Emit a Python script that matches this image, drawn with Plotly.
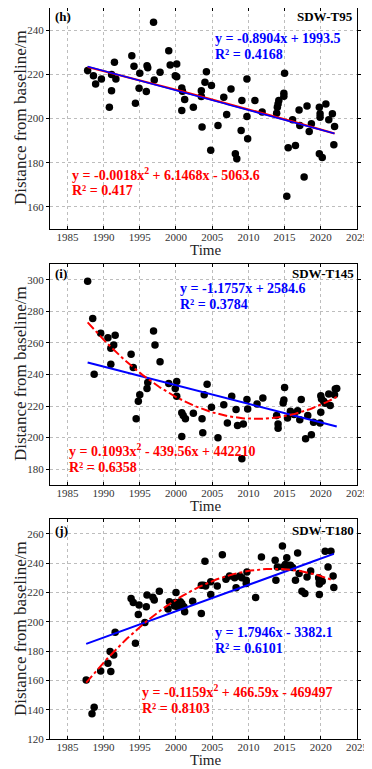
import numpy as np
import plotly.graph_objects as go

# ---------------- data ----------------
t95_year = [1987.8, 1988.6, 1988.9, 1989.7, 1990.8, 1991.1, 1991.1, 1991.5, 1991.7, 1993.9,
            1994.2, 1994.4, 1994.9, 1995.0, 1995.9, 1996.0, 1996.1, 1997.0, 1996.9, 1997.8,
            1999.0, 1999.2, 1999.9, 2000.1, 2000.1, 2000.8, 2000.8, 2000.9, 2001.2, 2002.4,
            2003.5, 2003.6, 2003.5, 2004.0, 2004.2, 2004.9, 2004.8, 2005.8, 2006.6, 2007.0,
            2007.6, 2008.2, 2008.4, 2009.0, 2009.1, 2009.8, 2009.8, 2009.9, 2010.9, 2011.9,
            2013.9, 2014.0, 2014.1, 2014.2, 2014.9, 2014.9, 2015.0, 2015.5, 2015.3, 2016.1,
            2016.5, 2017.0, 2017.1, 2017.7, 2018.1, 2018.4, 2018.7, 2019.8, 2019.9, 2019.9,
            2019.8, 2020.2, 2020.7, 2021.1, 2021.6, 2021.8, 2021.9]
t95_dist = [221.7, 219.4, 215.6, 217.9, 205.1, 212.6, 219.9, 225.4, 217.9, 228.4,
            223.6, 206.9, 213.7, 220.5, 212.2, 223.9, 223.0, 217.4, 243.5, 220.9,
            230.7, 224.2, 219.4, 224.7, 218.9, 213.8, 203.6, 212.3, 208.6, 205.1,
            212.6, 196.1, 209.9, 216.4, 221.2, 214.9, 185.6, 196.8, 209.6, 201.8,
            213.4, 184.1, 181.8, 194.6, 208.1, 200.9, 217.9, 190.8, 208.1, 202.9,
            202.4, 205.1, 206.6, 208.1, 211.4, 210.1, 220.5, 186.8, 164.8, 199.4,
            187.8, 203.9, 196.8, 173.5, 205.7, 194.1, 197.6, 205.1, 202.1, 200.6,
            184.1, 182.3, 206.6, 199.4, 202.1, 188.1, 196.4]

t145_year = [1987.8, 1988.5, 1988.7, 1989.6, 1990.6, 1991.0, 1991.0, 1991.4, 1991.6, 1993.8,
             1994.1, 1994.5, 1994.8, 1995.0, 1996.0, 1996.1, 1996.9, 1997.1, 1997.8, 1999.0,
             1999.9, 2000.1, 2000.1, 2000.8, 2001.0, 2001.3, 2000.8, 2002.4, 2003.6, 2003.7,
             2003.9, 2004.3, 2004.9, 2005.8, 2006.6, 2007.1, 2007.7, 2008.3, 2008.5, 2009.3,
             2009.1, 2009.8, 2009.9, 2011.2, 2012.0, 2013.9, 2014.1, 2014.1, 2014.8, 2014.9,
             2015.0, 2015.4, 2015.8, 2016.3, 2016.8, 2017.1, 2017.3, 2017.9, 2018.2, 2018.7,
             2019.0, 2019.9, 2020.0, 2020.0, 2020.1, 2020.4, 2020.6, 2021.1, 2021.3, 2021.9,
             2022.0, 2022.2]
t145_dist = [299.0, 275.5, 240.2, 266.2, 263.3, 256.6, 246.5, 258.7, 264.8, 252.8,
             244.4, 211.9, 223.0, 227.2, 231.2, 235.0, 267.5, 258.7, 248.0, 234.3,
             231.2, 235.6, 226.2, 215.7, 214.0, 211.9, 200.8, 215.5, 211.9, 203.1,
             227.2, 233.9, 219.2, 199.9, 220.9, 209.2, 226.2, 217.8, 207.7, 208.7,
             186.7, 224.1, 218.2, 221.3, 225.1, 214.0, 208.7, 206.0, 222.0, 223.9,
             231.8, 212.5, 216.7, 214.6, 217.1, 211.3, 224.1, 199.3, 214.0, 201.8,
             209.8, 209.2, 216.1, 226.6, 224.5, 223.0, 221.8, 227.6, 220.3, 227.2,
             230.8, 231.2]

t180_year = [1987.6, 1988.4, 1988.7, 1989.6, 1990.6, 1990.9, 1991.0, 1991.4, 1991.6, 1993.8,
             1994.1, 1994.4, 1994.8, 1994.9, 1995.7, 1995.9, 1996.0, 1996.8, 1997.0, 1997.7,
             1998.9, 1999.1, 1999.8, 1999.9, 2000.0, 2000.2, 2000.6, 2000.8, 2000.8, 2001.1,
             2001.2, 2002.3, 2003.5, 2003.5, 2003.8, 2004.0, 2004.1, 2004.8, 2004.8, 2005.7,
             2006.4, 2006.9, 2007.4, 2008.1, 2008.3, 2008.8, 2009.1, 2009.7, 2009.7, 2009.8,
             2011.0, 2011.8, 2013.7, 2013.8, 2014.0, 2014.7, 2014.8, 2015.1, 2015.3, 2015.4,
             2015.8, 2016.1, 2016.5, 2016.8, 2017.0, 2017.4, 2017.8, 2018.1, 2018.6, 2019.7,
             2019.8, 2019.8, 2019.8, 2020.2, 2020.6, 2021.0, 2021.4, 2021.7, 2021.8]
t180_dist = [160.3, 137.2, 141.7, 166.4, 171.6, 179.6, 166.0, 177.3, 192.7, 215.8,
             213.1, 185.2, 204.9, 211.3, 199.5, 210.2, 218.1, 216.7, 214.7, 220.8,
             208.6, 213.6, 210.6, 213.1, 219.9, 210.2, 213.6, 212.4, 211.3, 210.2,
             206.8, 214.0, 224.9, 205.6, 224.9, 241.2, 224.4, 218.5, 227.2, 224.4,
             245.7, 229.0, 231.2, 229.9, 223.1, 231.2, 229.9, 228.3, 226.0, 233.9,
             216.5, 244.1, 241.9, 228.3, 237.3, 251.6, 237.3, 238.9, 243.5, 238.5,
             238.5, 236.9, 228.3, 246.9, 232.8, 220.8, 219.2, 230.5, 234.6, 229.9,
             227.1, 225.6, 218.5, 227.6, 248.0, 237.3, 248.0, 231.2, 223.3]

# linear fit coefficients printed on the chart (slope, intercept)
lin_coef = [(-0.8904, 1993.5), (-1.1757, 2584.6), (1.7946, -3382.1)]

panel_tags = ["(h)", "(i)", "(j)"]
panel_names = ["SDW-T95", "SDW-T145", "SDW-T180"]
lin_eq = ["y = -0.8904x + 1993.5", "y = -1.1757x + 2584.6", "y = 1.7946x - 3382.1"]
lin_r2 = ["R² = 0.4168", "R² = 0.3784", "R² = 0.6101"]
quad_eq = ["y = -0.0018x<sup>2</sup> + 6.1468x - 5063.6",
           "y = 0.1093x<sup>2</sup> - 439.56x + 442210",
           "y = -0.1159x<sup>2</sup> + 466.59x - 469497"]
quad_r2 = ["R² = 0.417", "R² = 0.6358", "R² = 0.8103"]
x_title = "Time"
y_title = "Distance from baseline/m"

x_ticks = [1985, 1990, 1995, 2000, 2005, 2010, 2015, 2020, 2025]
y_ticks = [[160, 180, 200, 220, 240],
           [180, 200, 220, 240, 260, 280, 300],
           [120, 140, 160, 180, 200, 220, 240, 260]]
y_ranges = [[150, 250], [170, 310], [120, 270]]

years = [t95_year, t145_year, t180_year]
dists = [t95_dist, t145_dist, t180_dist]

# ---------------- layout geometry ----------------
# the page body adds an 8px offset, so the figure is drawn 8px smaller and
# every reference pixel position is shifted by OFF.
OFF = 8
W, H = 372 - OFF, 769 - OFF
BOX_L, BOX_R = 50, 357          # reference pixels
ML, MR, MT, MB = BOX_L - OFF, W - (BOX_R - OFF), 0, H - (739 - OFF)
PW, PH = W - ML - MR, H - MT - MB


def px2paper(px, py):
    return (px - OFF - ML) / PW, (H - MB - (py - OFF)) / PH


# reference pixel tops/bottoms of the three boxes
boxes = [(8, 229), (264, 485), (519, 739)]
domains = [[(H - MB - (b - OFF)) / PH, min(1.0, (H - MB - (t - OFF)) / PH)] for t, b in boxes]

FONT = "Liberation Serif, Times New Roman, serif"

fig = go.Figure()

quad_dash = ["solid", "dashdot", "dashdot"]

for i in range(3):
    xs = np.array(years[i])
    ys = np.array(dists[i])
    xa = "x" if i == 0 else f"x{i+1}"
    ya = "y" if i == 0 else f"y{i+1}"
    xl = np.linspace(xs.min(), xs.max(), 200)
    poly = np.polynomial.Polynomial.fit(xs, ys, 2)   # quadratic fit from the data
    m, c = lin_coef[i]
    fig.add_trace(go.Scatter(x=xs, y=ys, mode="markers", xaxis=xa, yaxis=ya,
                             marker=dict(color="black", size=7.5), showlegend=False))
    if i == 0:
        fig.add_trace(go.Scatter(x=xl, y=poly(xl), mode="lines", xaxis=xa, yaxis=ya,
                                 line=dict(color="#ff0000", width=2.2, dash=quad_dash[i]),
                                 showlegend=False))
        fig.add_trace(go.Scatter(x=xl, y=m * xl + c, mode="lines", xaxis=xa, yaxis=ya,
                                 line=dict(color="#0000ff", width=1.6), showlegend=False))
    else:
        fig.add_trace(go.Scatter(x=xl, y=m * xl + c, mode="lines", xaxis=xa, yaxis=ya,
                                 line=dict(color="#0000ff", width=2), showlegend=False))
        fig.add_trace(go.Scatter(x=xl, y=poly(xl), mode="lines", xaxis=xa, yaxis=ya,
                                 line=dict(color="#ff0000", width=2, dash=quad_dash[i]),
                                 showlegend=False))

axis_common = dict(showline=True, linecolor="black", linewidth=1, mirror="ticks",
                   ticklen=3, tickcolor="black",
                   showgrid=True, gridcolor="#bdbdbd", griddash="dot", gridwidth=1,
                   zeroline=False, tickfont=dict(family=FONT, size=11, color="#333"))

layout = dict(width=W, height=H, margin=dict(l=ML, r=MR, t=MT, b=MB, autoexpand=False),
              paper_bgcolor="white", plot_bgcolor="white", font=dict(family=FONT))
for i in range(3):
    sx = "" if i == 0 else str(i + 1)
    layout["xaxis" + sx] = dict(axis_common, domain=[0, 1], anchor="y" + sx, ticks="inside",
                                ticklabelstandoff=-2,
                                range=[1982.6, 2025.0], tickvals=x_ticks)
    layout["yaxis" + sx] = dict(axis_common, domain=domains[i], anchor="x" + sx, ticks="outside",
                                range=y_ranges[i], tickvals=y_ticks[i])
fig.update_layout(**layout)

# annotation pixel anchors (reference pixels)
ann_pos = [
    dict(tag=(53, 16), name=(355, 16), le=(213, 39), lr=(213, 55), qe=(70, 174), qr=(70, 191),
         xt=(205, 250), yt=(20, 118)),
    dict(tag=(53, 273), name=(356, 273), le=(178, 288), lr=(178, 304), qe=(67, 450), qr=(67, 467),
         xt=(205, 506), yt=(20, 374)),
    dict(tag=(53, 530), name=(356, 530), le=(213, 632), lr=(213, 648), qe=(140, 691), qr=(140, 708),
         xt=(205, 760), yt=(20, 629)),
]

anns = []


def add(txt, pos, color, size, xanchor="left", bold=True, angle=0):
    x, y = px2paper(*pos)
    anns.append(dict(text=f"<b>{txt}</b>" if bold else txt, x=x, y=y,
                     xref="paper", yref="paper", xanchor=xanchor, yanchor="middle",
                     showarrow=False, textangle=angle,
                     font=dict(family=FONT, size=size, color=color)))


for i in range(3):
    p = ann_pos[i]
    add(panel_tags[i], p["tag"], "black", 13)
    add(panel_names[i], p["name"], "black", 13, "right")
    add(lin_eq[i], p["le"], "#0000ff", 14)
    add(lin_r2[i], p["lr"], "#0000ff", 14)
    add(quad_eq[i], p["qe"], "#ff0000", 14)
    add(quad_r2[i], p["qr"], "#ff0000", 14)
    add(x_title, p["xt"], "#222", 15, "center", bold=False)
    add(y_title, p["yt"], "#222", 17, "center", bold=False, angle=-90)

fig.update_layout(annotations=anns)
fig.write_html("out.html")
